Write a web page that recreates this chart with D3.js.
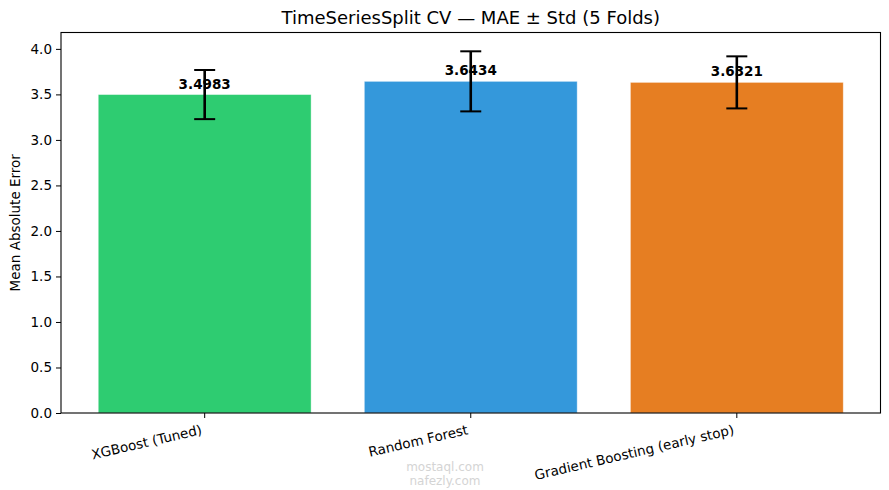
<!DOCTYPE html>
<html>
<head>
<meta charset="utf-8">
<script src="https://cdn.jsdelivr.net/npm/d3@7"></script>
<style>
  body { margin: 0; background: #fff; }
  svg { display: block; font-family: "DejaVu Sans", sans-serif; }
</style>
</head>
<body>
<svg id="cv-chart" width="889" height="490"></svg>
<script>
var models = ["XGBoost (Tuned)", "Random Forest", "Gradient Boosting (early stop)"];
var maeMean = [3.4983, 3.6434, 3.6321];
var maeStd = [0.27, 0.33, 0.286];
var barColors = ["#2ecc71", "#3498db", "#e67e22"];
var yTicks = [0, 0.5, 1.0, 1.5, 2.0, 2.5, 3.0, 3.5, 4.0];

var svg = d3.select("#cv-chart"),
    plotLeft = 61,
    plotRight = 880.5,
    plotTop = 32.5,
    plotBottom = 413;

var xScale = d3.scaleBand()
    .domain(models)
    .range([plotLeft, plotRight])
    .paddingInner(0.2)
    .paddingOuter(0.14);

var yScale = d3.scaleLinear()
    .domain([0, 4.18])
    .range([plotBottom, plotTop]);

var rows = models.map(function(m, i) {
    return {name: m, value: maeMean[i], std: maeStd[i], color: barColors[i]};
});

// bars
svg.selectAll(".bar")
    .data(rows)
    .enter().append("rect")
    .attr("class", "bar")
    .attr("x", function(d) { return xScale(d.name); })
    .attr("y", function(d) { return yScale(d.value); })
    .attr("width", xScale.bandwidth())
    .attr("height", function(d) { return plotBottom - yScale(d.value); })
    .attr("fill", function(d) { return d.color; })
    .attr("stroke", "#fff")
    .attr("stroke-opacity", 0.5)
    .attr("stroke-width", 0.8);

// axes
var yAxis = svg.append("g")
    .attr("transform", "translate(" + plotLeft + ",0)")
    .call(d3.axisLeft(yScale).tickValues(yTicks).tickFormat(d3.format(".1f")).tickSize(5).tickPadding(4));

var xAxis = svg.append("g")
    .attr("transform", "translate(0," + plotBottom + ")")
    .call(d3.axisBottom(xScale).tickSize(5).tickFormat(""));

[yAxis, xAxis].forEach(function(ax) {
    ax.select(".domain").remove();
    ax.selectAll("line").attr("stroke", "#000").attr("stroke-width", 1);
    ax.selectAll("text")
        .attr("fill", "#000")
        .style("font-size", "13.5px")
        .style("font-family", "DejaVu Sans, sans-serif");
});

// rotated x tick labels
svg.append("g").selectAll("text")
    .data(models)
    .enter().append("text")
    .attr("transform", function(d) {
        return "translate(" + (xScale(d) + xScale.bandwidth() / 2 - 2) + "," + 434 + ") rotate(-13)";
    })
    .attr("text-anchor", "end")
    .style("font-size", "13.5px")
    .attr("fill", "#000")
    .text(function(d) { return d; });

// frame
svg.append("rect")
    .attr("x", plotLeft)
    .attr("y", plotTop)
    .attr("width", plotRight - plotLeft)
    .attr("height", plotBottom - plotTop)
    .attr("fill", "none")
    .attr("stroke", "#000")
    .attr("stroke-width", 1.1);

// error bars
var err = svg.append("g").attr("class", "errors");
rows.forEach(function(d) {
    var cx = xScale(d.name) + xScale.bandwidth() / 2;
    var y1 = yScale(d.value + d.std), y0 = yScale(d.value - d.std);
    err.append("line")
        .attr("x1", cx).attr("x2", cx).attr("y1", y1).attr("y2", y0)
        .attr("stroke", "#000").attr("stroke-width", 2.6);
    [y0, y1].forEach(function(yy) {
        err.append("line")
            .attr("x1", cx - 10.5).attr("x2", cx + 10.5).attr("y1", yy).attr("y2", yy)
            .attr("stroke", "#000").attr("stroke-width", 2);
    });
});

// value labels
svg.selectAll(".val")
    .data(rows)
    .enter().append("text")
    .attr("class", "val")
    .attr("x", function(d) { return xScale(d.name) + xScale.bandwidth() / 2; })
    .attr("y", function(d) { return yScale(d.value) - 6; })
    .attr("text-anchor", "middle")
    .style("font-size", "13.5px")
    .style("font-weight", "bold")
    .text(function(d) { return d.value.toFixed(4); });

// title
svg.append("text")
    .attr("x", (plotLeft + plotRight) / 2)
    .attr("y", 24)
    .attr("text-anchor", "middle")
    .style("font-size", "18px")
    .text("TimeSeriesSplit CV — MAE ± Std (5 Folds)");

// y label
svg.append("text")
    .attr("transform", "translate(20," + ((plotTop + plotBottom) / 2) + ") rotate(-90)")
    .attr("text-anchor", "middle")
    .style("font-size", "13.5px")
    .text("Mean Absolute Error");

// watermark
var wm = svg.append("g").attr("fill", "#d4d4d4").attr("text-anchor", "middle");
wm.append("text").attr("x", 445).attr("y", 471).style("font-size", "12px").text("mostaql.com");
wm.append("text").attr("x", 445).attr("y", 485).style("font-size", "12px").text("nafezly.com");
</script>
</body>
</html>
